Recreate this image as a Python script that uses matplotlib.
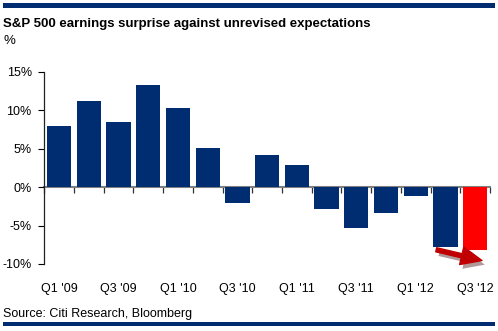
import numpy as np
import matplotlib.pyplot as plt
from matplotlib.patches import Rectangle
import matplotlib.patheffects as pe

plt.rcParams['font.family'] = ['Liberation Sans', 'DejaVu Sans']

# quarterly earnings surprise, Q1 '09 .. Q3 '12
quarters = ["Q1 '09", "Q2 '09", "Q3 '09", "Q4 '09",
            "Q1 '10", "Q2 '10", "Q3 '10", "Q4 '10",
            "Q1 '11", "Q2 '11", "Q3 '11", "Q4 '11",
            "Q1 '12", "Q2 '12", "Q3 '12"]
surprise = [8.0, 11.2, 8.5, 13.3, 10.3, 5.1, -2.1, 4.2,
            2.9, -2.9, -5.3, -3.4, -1.2, -7.8, -8.2]
yticks = [-10, -5, 0, 5, 10, 15]

navy = '#002d72'
colors = [navy] * (len(surprise) - 1) + ['#ff0000']

fig = plt.figure(figsize=(4.98, 3.31), dpi=100)
ax = fig.add_axes([44.3 / 498, 67 / 331, 445.7 / 498, 192.3 / 331])

x = np.arange(len(surprise))
ax.bar(x, surprise, width=0.82, color=colors)

ax.set_xlim(-0.5, len(surprise) - 0.5)
ax.set_ylim(-10, 15)
ax.set_yticks(yticks)
ax.set_yticklabels([f'{v}%' for v in yticks], fontsize=9)
ax.tick_params(axis='y', direction='out', length=4, width=0.8, pad=5)

# labels every other quarter along the bottom
ax.set_xticks(x[::2])
ax.set_xticklabels(quarters[::2], fontsize=9)
ax.tick_params(axis='x', length=0, pad=14)

for s in ['top', 'right', 'bottom']:
    ax.spines[s].set_visible(False)
ax.spines['left'].set_color('#222222')
ax.spines['left'].set_linewidth(0.9)

# zero line with boundary ticks
zero = ax.secondary_xaxis(10 / 25)
zero.set_xticks(np.arange(len(surprise) + 1) - 0.5)
zero.set_xticklabels([])
zero.tick_params(direction='out', length=4, width=0.9, color='#333333')
zero.spines['bottom'].set_color('#808080')
zero.spines['bottom'].set_linewidth(1.5)
zero.spines['bottom'].set_zorder(3)

# red arrow
ax.annotate('', xy=(14.23, -9.55), xytext=(12.69, -8.15),
            arrowprops=dict(arrowstyle='simple,head_width=1.3,head_length=1.5,tail_width=0.3',
                            color='#c00000', shrinkA=0, shrinkB=0,
                            path_effects=[pe.SimplePatchShadow(offset=(2, -3), alpha=0.4),
                                          pe.Normal()]),
            annotation_clip=False)

# header / footer
fig.add_artist(Rectangle((3 / 498, 1 - 7.7 / 331), 492 / 498, 4.7 / 331,
                         transform=fig.transFigure, color=navy, lw=0))
fig.add_artist(Rectangle((3 / 498, 1 - 326 / 331), 492 / 498, 4.3 / 331,
                         transform=fig.transFigure, color=navy, lw=0))
fig.text(3 / 498, 1 - 27.5 / 331, 'S&P 500 earnings surprise against unrevised expectations',
         fontsize=9.5, fontweight='bold')
fig.text(3 / 498, 1 - 44 / 331, '%', fontsize=9.5)
fig.text(3 / 498, 1 - 316.5 / 331, 'Source: Citi Research, Bloomberg', fontsize=9)

fig.savefig('out.png', dpi=100)
